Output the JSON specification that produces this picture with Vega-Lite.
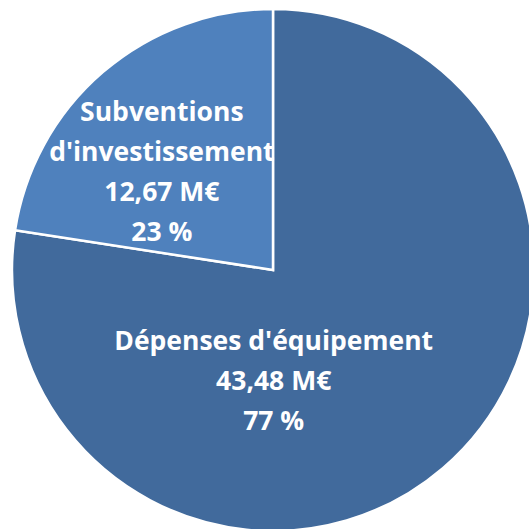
{
  "$schema": "https://vega.github.io/schema/vega-lite/v6.json",
  "width": 522,
  "height": 522,
  "autosize": {"type": "none"},
  "padding": {"left": 12, "top": 9, "right": 0, "bottom": 0},
  "background": "white",
  "data": {
    "values": [
      {"cat": "Dépenses d'équipement", "value": 43.48, "label": "Dépenses d'équipement\n43,48 M€\n77 %", "order": 1},
      {"cat": "Subventions d'investissement", "value": 12.67, "label": "Subventions\nd'investissement\n12,67 M€\n23 %", "order": 2}
    ]
  },
  "encoding": {
    "theta": {"field": "value", "type": "quantitative", "stack": true},
    "order": {"field": "order", "type": "quantitative"}
  },
  "layer": [
    {
      "mark": {"type": "arc", "outerRadius": 261, "stroke": "white", "strokeWidth": 2.5},
      "encoding": {
        "color": {
          "field": "cat", "type": "nominal", "legend": null,
          "scale": {"domain": ["Dépenses d'équipement", "Subventions d'investissement"], "range": ["#416A9C", "#4F81BD"]}
        }
      }
    },
    {
      "mark": {"type": "text", "radius": 147, "dx": -95, "dy": -40, "font": "Open Sans", "fontWeight": "bold", "fontSize": 26.5, "lineHeight": 40, "fill": "white", "lineBreak": "\n", "align": "center", "baseline": "middle"},
      "encoding": {"text": {"condition": {"test": "datum.order == 1", "field": "label"}, "value": ""}}
    },
    {
      "mark": {"type": "text", "radius": 140, "dx": -20, "dy": -51, "font": "Open Sans", "fontWeight": "bold", "fontSize": 26.5, "lineHeight": 40, "fill": "white", "lineBreak": "\n", "align": "center", "baseline": "middle"},
      "encoding": {"text": {"condition": {"test": "datum.order == 2", "field": "label"}, "value": ""}}
    }
  ]
}
